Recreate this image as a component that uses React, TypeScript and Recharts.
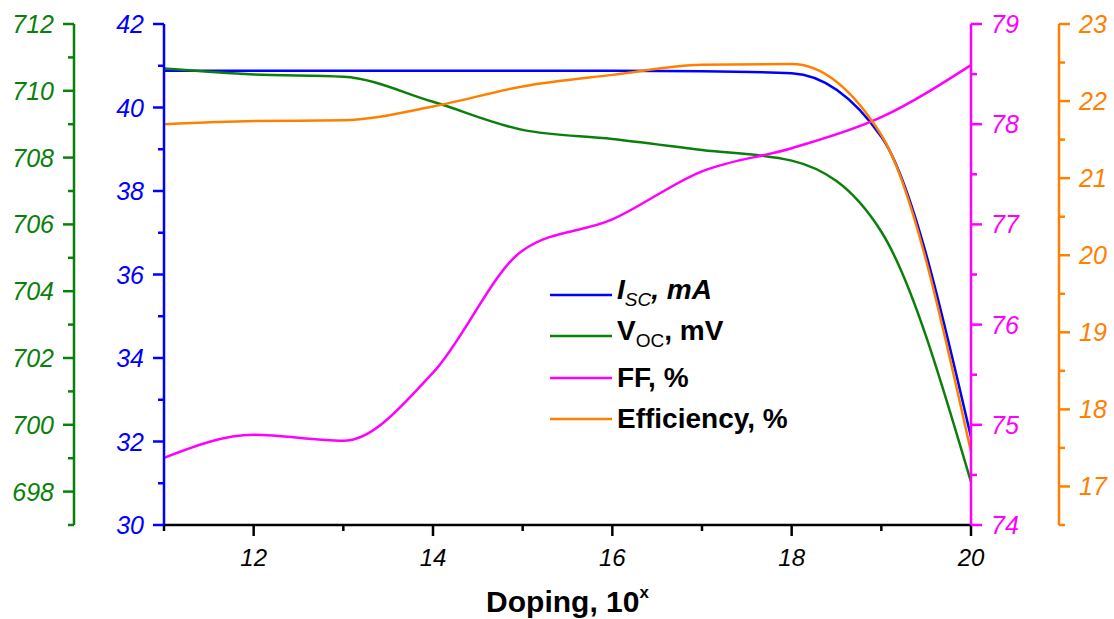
import React from 'react';
import { ComposedChart, Line, XAxis, YAxis, Legend, Label } from 'recharts';

const doping = [11, 12, 13, 14, 15, 16, 17, 18, 19, 20];
const iscMA = [40.88, 40.88, 40.88, 40.88, 40.88, 40.88, 40.87, 40.82, 39.3, 32.1];
const vocMV = [710.67, 710.49, 710.42, 709.67, 708.83, 708.56, 708.23, 707.91, 705.78, 698.29];
const ffPct = [74.67, 74.9, 74.84, 75.52, 76.74, 77.05, 77.53, 77.76, 78.07, 78.59];
const effPct = [21.7, 21.74, 21.75, 21.93, 22.19, 22.34, 22.47, 22.48, 21.56, 17.45];

const xTicks = [11, 12, 13, 14, 15, 16, 17, 18, 19, 20];
const iscTicks = [30, 31, 32, 33, 34, 35, 36, 37, 38, 39, 40, 41, 42];
const vocTicks = [697, 698, 699, 700, 701, 702, 703, 704, 705, 706, 707, 708, 709, 710, 711, 712];
const ffTicks = [74, 74.5, 75, 75.5, 76, 76.5, 77, 77.5, 78, 78.5, 79];
const effTicks = [16.5, 17, 17.5, 18, 18.5, 19, 19.5, 20, 20.5, 21, 21.5, 22, 22.5, 23];

const data = doping.map((d, i) => ({
  doping: d,
  isc: iscMA[i],
  voc: vocMV[i],
  ff: ffPct[i],
  eff: effPct[i],
}));

const FONT = "'Liberation Sans', Arial, sans-serif";
const BLUE = '#0000ff';
const GREEN = '#0a800a';
const MAGENTA = '#ff00ff';
const ORANGE = '#ff8000';

// ticks drawn by hand so minor ticks can be shorter and unlabelled
const makeYTick = (color: string, side: 'left' | 'right', isMajor: (v: number) => boolean) =>
  (props: any) => {
    const { x, y, payload } = props;
    const v = payload.value;
    const major = isMajor(v);
    const dir = side === 'left' ? -1 : 1;
    const len = major ? 11 : 6;
    return (
      <g>
        <line x1={x} y1={y} x2={x + dir * len} y2={y} stroke={color} strokeWidth={2.5} />
        {major && (
          <text
            x={x + dir * 20}
            y={y}
            dy="0.36em"
            textAnchor={side === 'left' ? 'end' : 'start'}
            fill={color}
            fontSize={25}
            fontStyle="italic"
            fontFamily={FONT}
          >
            {v}
          </text>
        )}
      </g>
    );
  };

const XTick = (props: any) => {
  const { x, y, payload } = props;
  const major = payload.value % 2 === 0;
  return (
    <g>
      <line x1={x} y1={y} x2={x} y2={y + (major ? 11 : 6)} stroke="#000" strokeWidth={2.5} />
      {major && (
        <text x={x} y={y + 41} textAnchor="middle" fill="#000" fontSize={24} fontStyle="italic" fontFamily={FONT}>
          {payload.value}
        </text>
      )}
    </g>
  );
};

const XLabel = (props: any) => {
  const { x, y, width, height } = props.viewBox;
  return (
    <text x={x + width / 2} y={y + height + 7} textAnchor="middle" fontSize={30} fontWeight={700} fontFamily={FONT} fill="#000">
      Doping, 10
      <tspan fontSize={17} dy={-14}>x</tspan>
    </text>
  );
};

const legendRows = [
  {
    color: BLUE,
    label: (
      <span style={{ fontStyle: 'italic' }}>
        I<sub style={{ fontSize: 19, fontWeight: 400, verticalAlign: -7 }}>SC</sub>, mA
      </span>
    ),
  },
  {
    color: GREEN,
    label: (
      <span>
        V<sub style={{ fontSize: 19, fontWeight: 400, verticalAlign: -7 }}>OC</sub>, mV
      </span>
    ),
  },
  { color: MAGENTA, label: <span>FF, %</span> },
  { color: ORANGE, label: <span>Efficiency, %</span> },
];

const LegendBox = () => (
  <div style={{ fontFamily: FONT, fontWeight: 700, fontSize: 28, color: '#000' }}>
    {legendRows.map((r, i) => (
      <div key={i} style={{ display: 'flex', alignItems: 'center', height: 41.5, lineHeight: '28px' }}>
        <svg width={64} height={6} style={{ marginRight: 4 }}>
          <line x1={1} y1={3} x2={63} y2={3} stroke={r.color} strokeWidth={2.5} />
        </svg>
        {r.label}
      </div>
    ))}
  </div>
);

export default function App() {
  return (
    <div style={{ position: 'absolute', left: 0, top: 0, background: '#fff' }}>
      <ComposedChart width={1114} height={619} data={data} margin={{ top: 24, right: 10, bottom: 14, left: 10 }}>
        <XAxis
          dataKey="doping"
          type="number"
          domain={[11, 20]}
          ticks={xTicks}
          interval={0}
          height={80}
          stroke="#000"
          strokeWidth={2.5}
          tickSize={0}
          tickMargin={0}
          tickLine={false}
          tick={XTick}
        >
          <Label content={XLabel} />
        </XAxis>
        <YAxis
          yAxisId="y1isc"
          orientation="left"
          width={90}
          domain={[30, 42]}
          ticks={iscTicks}
          interval={0}
          stroke={BLUE}
          strokeWidth={2.5}
          tickSize={0}
          tickMargin={0}
          tickLine={false}
          tick={makeYTick(BLUE, 'left', (v) => v % 2 === 0)}
          allowDataOverflow
        />
        <YAxis
          yAxisId="y2voc"
          orientation="left"
          width={64}
          domain={[697, 712]}
          ticks={vocTicks}
          interval={0}
          stroke={GREEN}
          strokeWidth={2.5}
          tickSize={0}
          tickMargin={0}
          tickLine={false}
          tick={makeYTick(GREEN, 'left', (v) => v % 2 === 0)}
          allowDataOverflow
        />
        <YAxis
          yAxisId="y3ff"
          orientation="right"
          width={88}
          domain={[74, 79]}
          ticks={ffTicks}
          interval={0}
          stroke={MAGENTA}
          strokeWidth={2.5}
          tickSize={0}
          tickMargin={0}
          tickLine={false}
          tick={makeYTick(MAGENTA, 'right', (v) => Number.isInteger(v))}
          allowDataOverflow
        />
        <YAxis
          yAxisId="y4eff"
          orientation="right"
          width={45}
          domain={[16.5, 23]}
          ticks={effTicks}
          interval={0}
          stroke={ORANGE}
          strokeWidth={2.5}
          tickSize={0}
          tickMargin={0}
          tickLine={false}
          tick={makeYTick(ORANGE, 'right', (v) => Number.isInteger(v))}
          allowDataOverflow
        />
        <Legend
          layout="vertical"
          align="center"
          verticalAlign="middle"
          content={LegendBox}
          wrapperStyle={{ left: 549, top: 274, width: 300 }}
        />
        <Line yAxisId="y1isc" type="monotone" dataKey="isc" stroke={BLUE} strokeWidth={2.5} dot={false} isAnimationActive={false} />
        <Line yAxisId="y2voc" type="monotone" dataKey="voc" stroke={GREEN} strokeWidth={2.5} dot={false} isAnimationActive={false} />
        <Line yAxisId="y3ff" type="monotone" dataKey="ff" stroke={MAGENTA} strokeWidth={2.5} dot={false} isAnimationActive={false} />
        <Line yAxisId="y4eff" type="monotone" dataKey="eff" stroke={ORANGE} strokeWidth={2.5} dot={false} isAnimationActive={false} />
      </ComposedChart>
    </div>
  );
}
